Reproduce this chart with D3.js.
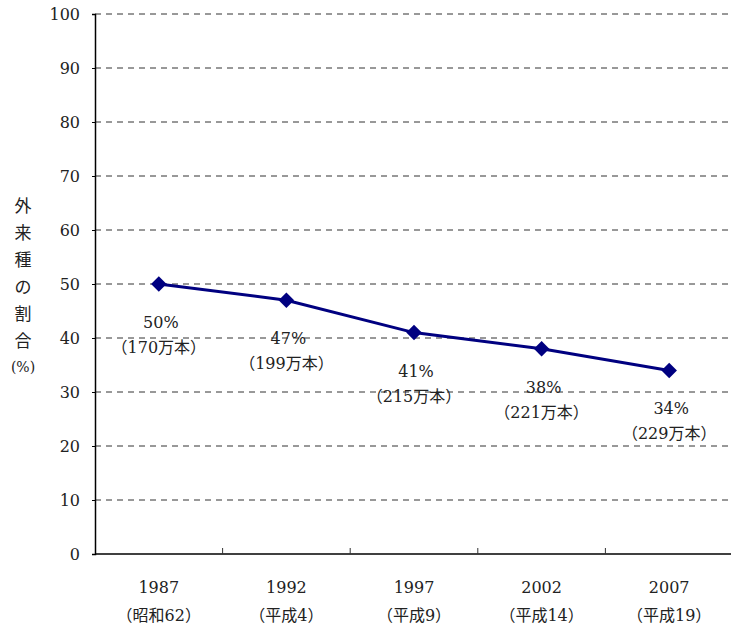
<!DOCTYPE html>
<html><head><meta charset="utf-8">
<script src="https://cdn.jsdelivr.net/npm/d3@7"></script>
<style>
body{margin:0;background:#fff}
</style></head>
<body><svg id="c" width="731" height="630"></svg>
<script>
// chart data
const years = ["1987", "1992", "1997", "2002", "2007"];
const eras = ["（昭和62）", "（平成4）", "（平成9）", "（平成14）", "（平成19）"];
const shares = [50, 47, 41, 38, 34];
const counts = ["170", "199", "215", "221", "229"];
const yTicks = [0, 10, 20, 30, 40, 50, 60, 70, 80, 90, 100];

const FONT = "'DejaVu Serif', 'Liberation Serif', 'Noto Sans CJK JP', serif";

const svg = d3.select("#c").attr("font-family", FONT);
const mLeft = 95, mRight = 733, mTop = 14, mBottom = 554;

const x = d3.scaleBand().domain(years).range([mLeft, mRight]);
const y = d3.scaleLinear().domain([0, 100]).range([mBottom, mTop]);

// dashed grid lines
svg.append("g").selectAll("line")
    .data(yTicks.filter(d => d > 0))
    .enter().append("line")
    .attr("x1", mLeft).attr("x2", 731)
    .attr("y1", d => y(d)).attr("y2", d => y(d))
    .attr("stroke", "#333").attr("stroke-width", 1)
    .attr("stroke-dasharray", "6,5");

// y axis
const ya = svg.append("g").attr("transform", `translate(${mLeft},0)`)
    .call(d3.axisLeft(y).tickValues(yTicks).tickSize(3).tickPadding(12));
ya.attr("font-family", FONT);
ya.select(".domain").attr("stroke", "#000").attr("stroke-width", 1.5);
ya.selectAll("text").attr("font-size", 16).attr("fill", "#222");

// x axis with inward ticks at band edges
svg.append("line").attr("x1", mLeft).attr("x2", 731)
    .attr("y1", mBottom).attr("y2", mBottom)
    .attr("stroke", "#000").attr("stroke-width", 1.5);
svg.append("g").selectAll("line")
    .data(years.slice(1))
    .enter().append("line")
    .attr("x1", d => x(d)).attr("x2", d => x(d))
    .attr("y1", mBottom).attr("y2", mBottom - 6)
    .attr("stroke", "#333");

const cx = d => x(d) + x.bandwidth() / 2;

const xl = svg.append("g").selectAll("g")
    .data(years).enter().append("g");
xl.append("text").attr("x", cx).attr("y", 593).attr("fill", "#222")
    .attr("text-anchor", "middle").attr("font-size", 16).text(d => d);
xl.append("text").attr("x", cx).attr("y", 621).attr("fill", "#222")
    .attr("text-anchor", "middle").attr("font-size", 16).text((d, i) => eras[i]);

// y axis title (vertical)
const title = ["外", "来", "種", "の", "割", "合"];
svg.append("g").selectAll("text").data(title).enter().append("text")
    .attr("x", 23).attr("y", (d, i) => 212 + i * 27).attr("fill", "#222")
    .attr("text-anchor", "middle").attr("font-size", 17).text(d => d);
svg.append("text").attr("x", 23).attr("y", 372).attr("text-anchor", "middle")
    .attr("font-size", 14).attr("fill", "#222").text("(%)");

// line and markers
const pts = years.map((d, i) => [cx(d), y(shares[i])]);
svg.append("path").datum(pts)
    .attr("d", d3.line())
    .attr("fill", "none").attr("stroke", "#000080").attr("stroke-width", 3);
svg.append("g").selectAll("path").data(pts).enter().append("path")
    .attr("d", d3.symbol().type(d3.symbolSquare).size(120))
    .attr("transform", d => `translate(${d[0]},${d[1]}) rotate(45)`)
    .attr("fill", "#000080");

// data labels
const lab = svg.append("g").selectAll("g").data(years).enter().append("g");
lab.append("text").attr("x", d => cx(d) + 2).attr("y", (d, i) => y(shares[i]) + 44)
    .attr("text-anchor", "middle").attr("font-size", 16).attr("fill", "#222")
    .text((d, i) => shares[i] + "%");
lab.append("text").attr("x", cx).attr("y", (d, i) => y(shares[i]) + 69)
    .attr("text-anchor", "middle").attr("font-size", 16).attr("fill", "#222")
    .text((d, i) => "（" + counts[i] + "万本）");
</script></body></html>
